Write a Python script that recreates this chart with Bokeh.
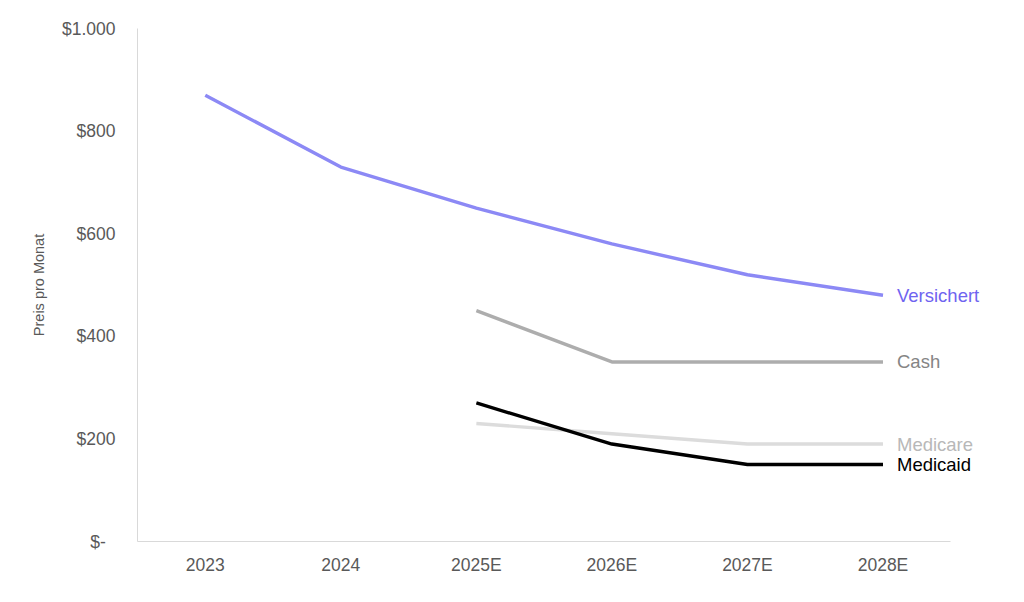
from bokeh.plotting import figure
from bokeh.models import ColumnDataSource, LabelSet, FixedTicker
from bokeh.core.properties import value
from bokeh.embed import file_html
from bokeh.resources import INLINE

years = ["2023", "2024", "2025E", "2026E", "2027E", "2028E"]
versichert = [870, 730, 650, 580, 520, 480]
est_years = ["2025E", "2026E", "2027E", "2028E"]
cash = [450, 350, 350, 350]
medicare = [230, 210, 190, 190]
medicaid = [270, 190, 150, 150]

y_ticks = [0, 200, 400, 600, 800, 1000]
y_tick_labels = ["$-\u00a0\u00a0", "$200", "$400", "$600", "$800", "$1.000"]

FONT = "Liberation Sans"

def idx(cats):
    return [years.index(c) for c in cats]

p = figure(x_range=(-0.5, 5.83), y_range=(0, 1000), width=1000, height=590,
           output_backend="svg", toolbar_location=None,
           min_border_left=137, min_border_right=5, min_border_top=28,
           min_border_bottom=49)
p.outline_line_color = None
p.grid.grid_line_color = None
p.background_fill_color = "white"

series = [
    ("Versichert", years, versichert, "#8c89f5"),
    ("Cash", est_years, cash, "#adadad"),
    ("Medicare", est_years, medicare, "#dcdcdc"),
    ("Medicaid", est_years, medicaid, "#000000"),
]
for name, xs, ys, lc in series:
    p.line(idx(xs), ys, line_color=lc, line_width=3.4)

lab_src = ColumnDataSource(dict(
    x=[len(years) - 1] * 4,
    y=[versichert[-1], cash[-1], medicare[-1], medicaid[-1]],
    text=["Versichert", "Cash", "Medicare", "Medicaid"],
    color=["#6f64f0", "#858585", "#b8b8b8", "#000000"],
))
labels = LabelSet(x="x", y="y", text="text", source=lab_src, x_offset=14,
                  y_offset=0, text_color="color", text_font_size="18.5px",
                  text_font=value(FONT), text_baseline="middle", text_align="left")
p.add_layout(labels)

p.xaxis.ticker = FixedTicker(ticks=list(range(len(years))))
p.xaxis.major_label_overrides = {i: y for i, y in enumerate(years)}
p.xaxis.bounds = (-0.5, len(years) - 0.5)
p.yaxis.ticker = FixedTicker(ticks=y_ticks)
p.yaxis.major_label_overrides = {t: l for t, l in zip(y_ticks, y_tick_labels)}
for ax in (p.xaxis, p.yaxis):
    ax.axis_line_color = "#d9d9d9"
    ax.axis_line_width = 1
    ax.major_tick_line_color = None
    ax.major_tick_out = 0
    ax.major_tick_in = 0
    ax.minor_tick_line_color = None
    ax.minor_tick_out = 0
    ax.major_label_text_font = FONT
    ax.major_label_text_font_size = "17.5px"
    ax.major_label_text_color = "#595959"
p.yaxis.major_label_standoff = 22
p.xaxis.major_label_standoff = 13
p.yaxis.axis_label = "Preis pro Monat"
p.yaxis.axis_label_text_font = FONT
p.yaxis.axis_label_text_font_size = "14.5px"
p.yaxis.axis_label_text_font_style = "normal"
p.yaxis.axis_label_text_color = "#595959"
p.yaxis.axis_label_standoff = 12

open("out.html", "w").write(file_html(p, INLINE))
